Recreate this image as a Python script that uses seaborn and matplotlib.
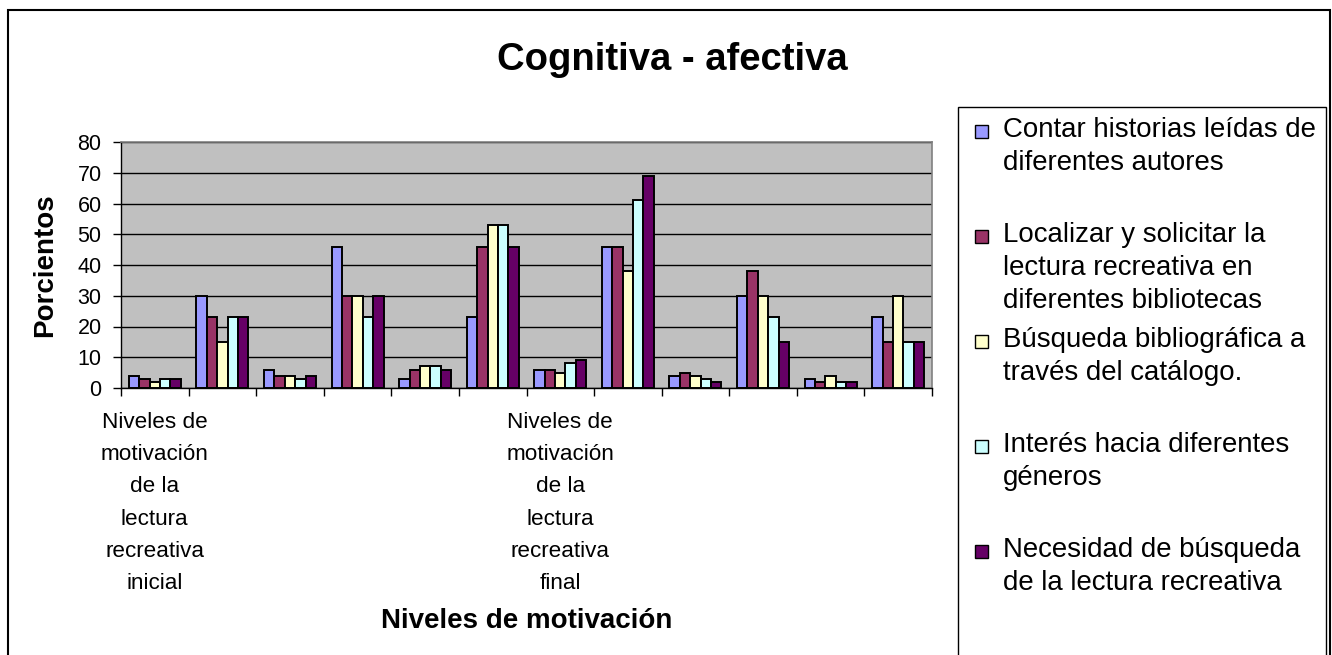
import pandas as pd
import matplotlib
matplotlib.use("Agg")
import matplotlib.pyplot as plt
from matplotlib.patches import Rectangle
import seaborn as sns

sns.set_theme(style="white")
plt.rcParams["font.family"] = ["Liberation Sans", "DejaVu Sans"]
plt.rcParams["text.color"] = "black"
plt.rcParams["axes.labelcolor"] = "black"
plt.rcParams["xtick.color"] = "black"
plt.rcParams["ytick.color"] = "black"

# datos (porcientos / conteos)
grupos = list(range(1, 13))
etiquetas_x = ["Niveles de\nmotivación\nde la\nlectura\nrecreativa\ninicial", "", "", "", "", "",
               "Niveles de\nmotivación\nde la\nlectura\nrecreativa\nfinal", "", "", "", "", ""]
series = ["Contar historias leídas de\ndiferentes autores",
          "Localizar y solicitar la\nlectura recreativa en\ndiferentes bibliotecas",
          "Búsqueda bibliográfica a\ntravés del catálogo.",
          "Interés hacia diferentes\ngéneros",
          "Necesidad de búsqueda\nde la lectura recreativa"]
contar = [4, 30, 6, 46, 3, 23, 6, 46, 4, 30, 3, 23]
localizar = [3, 23, 4, 30, 6, 46, 6, 46, 5, 38, 2, 15]
busqueda = [2, 15, 4, 30, 7, 53, 5, 38, 4, 30, 4, 30]
interes = [3, 23, 3, 23, 7, 53, 8, 61, 3, 23, 2, 15]
necesidad = [3, 23, 4, 30, 6, 46, 9, 69, 2, 15, 2, 15]
colores = ["#9999FF", "#993366", "#FFFFCC", "#CCFFFF", "#660066"]

valores = [contar, localizar, busqueda, interes, necesidad]
filas = []
for serie, vals in zip(series, valores):
    for g, v in zip(grupos, vals):
        filas.append({"nivel": g, "serie": serie, "valor": v})
df = pd.DataFrame(filas)

W, H = 1332, 655
fig = plt.figure(figsize=(W / 100, H / 100), dpi=100)


def fx(x):
    return x / W


def fy(y):
    return 1 - y / H


# marco exterior del grafico
fig.add_artist(Rectangle((fx(8), -0.1), fx(1330 - 8), fy(10) + 0.1, transform=fig.transFigure,
                         fill=False, edgecolor="black", linewidth=1.5, clip_on=False))

ax = fig.add_axes([fx(121), fy(388), fx(932 - 121), (388 - 142) / H])
ax.set_facecolor("#C0C0C0")

sns.barplot(data=df, x="nivel", y="valor", hue="serie", order=grupos, hue_order=series,
            palette=colores, saturation=1, width=0.77, edgecolor="black", linewidth=1.4,
            legend=False, ax=ax)

ax.set_ylim(0, 80)
ax.set_xlim(-0.5, len(grupos) - 0.5)
ax.set_yticks(range(0, 81, 10))
ax.yaxis.grid(True, color="black", linewidth=1)
ax.set_axisbelow(True)

ax.set_xticks([i - 0.5 for i in range(len(grupos) + 1)])
ax.set_xticklabels([])
ax.set_xticks(range(len(grupos)), minor=True)
ax.set_xticklabels(etiquetas_x, minor=True, fontsize=16.2, linespacing=1.71, va="top")
ax.tick_params(axis="x", which="major", direction="out", length=6, width=1, color="black", bottom=True)
ax.tick_params(axis="x", which="minor", length=0, pad=17, bottom=True)
ax.tick_params(axis="y", direction="out", length=6, width=1, color="black", left=True,
               labelsize=15.5, pad=8)

for s in ["left", "bottom"]:
    ax.spines[s].set_color("black")
    ax.spines[s].set_linewidth(1)
for s in ["top", "right"]:
    ax.spines[s].set_color("#808080")
    ax.spines[s].set_linewidth(1.2)

ax.set_xlabel("Niveles de motivación", fontsize=20, fontweight="bold")
ax.xaxis.set_label_coords(0.5, (388 - 608) / 246)
ax.set_ylabel("Porcientos", fontsize=20, fontweight="bold")
ax.yaxis.set_label_coords((58 - 121) / 811, 0.5)

fig.text(fx(672), fy(70), "Cognitiva - afectiva", ha="center", va="baseline",
         fontsize=27.5, fontweight="bold")

# leyenda
fig.add_artist(Rectangle((fx(958), -0.1), fx(1326 - 958), fy(107) + 0.1, transform=fig.transFigure,
                         fill=False, edgecolor="black", linewidth=1, clip_on=False))
for i, (serie, color) in enumerate(zip(series, colores)):
    base = 138 + 105 * i
    fig.add_artist(Rectangle((fx(975), fy(base)), fx(13), 13 / H, transform=fig.transFigure,
                             facecolor=color, edgecolor="black", linewidth=1))
    fig.text(fx(1003), fy(base - 21), serie, ha="left", va="top", fontsize=19.9, linespacing=1.36)

fig.savefig("out.png", dpi=100)
